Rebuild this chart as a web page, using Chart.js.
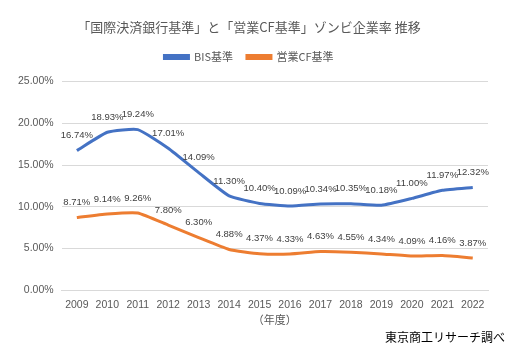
<!DOCTYPE html>
<html>
<head>
<meta charset="utf-8">
<script src="https://cdn.jsdelivr.net/npm/chart.js@4"></script>
<style>
  html, body { margin: 0; padding: 0; background: #fff; }
  #wrap { width: 517px; height: 358px; }
</style>
</head>
<body>
<div id="wrap"><canvas id="chart"></canvas></div>
<script>
// years (fiscal) and zombie-company ratios, in percent
const years = ["2009", "2010", "2011", "2012", "2013", "2014", "2015", "2016", "2017", "2018", "2019", "2020", "2021", "2022"];
const bisRatio = [16.74, 18.93, 19.24, 17.01, 14.09, 11.30, 10.40, 10.09, 10.34, 10.35, 10.18, 11.00, 11.97, 12.32];
const cfRatio = [8.71, 9.14, 9.26, 7.80, 6.30, 4.88, 4.37, 4.33, 4.63, 4.55, 4.34, 4.09, 4.16, 3.87];
const seriesNames = ["BIS基準", "営業CF基準"];

const blue = "#4472C4";
const orange = "#ED7D31";
const textColor = "#595959";
const fontFamily = "'Liberation Sans', 'Noto Sans CJK JP', sans-serif";

// extra room under the legend
const legendGap = {
    id: "legendGap",
    beforeInit(chart) {
        const fit = chart.legend.fit;
        chart.legend.fit = function() {
            fit.call(this);
            this.height += 9;
        };
    }
};

// draws the value above every point
const pointLabels = {
    id: "pointLabels",
    afterDatasetsDraw(chart) {
        const ctx = chart.ctx;
        ctx.save();
        ctx.font = "9.5px " + fontFamily;
        ctx.fillStyle = "#404040";
        ctx.textAlign = "center";
        ctx.textBaseline = "middle";
        chart.data.datasets.forEach((ds, i) => {
            chart.getDatasetMeta(i).data.forEach((pt, j) => {
                ctx.fillText(ds.data[j].toFixed(2) + "%", pt.x, pt.y - 15);
            });
        });
        ctx.restore();
    }
};

// source note in the bottom right corner
const sourceNote = {
    id: "sourceNote",
    afterDraw(chart) {
        const ctx = chart.ctx;
        ctx.save();
        ctx.font = "12px 'Noto Sans CJK JP', sans-serif";
        ctx.fillStyle = "#000";
        ctx.textAlign = "right";
        ctx.textBaseline = "middle";
        ctx.fillText("東京商工リサーチ調べ", 505, 337);
        ctx.restore();
    }
};

new Chart(document.getElementById("chart"), {
    type: "line",
    data: {
        labels: years,
        datasets: [
            {
                label: seriesNames[0],
                data: bisRatio,
                borderColor: blue,
                backgroundColor: blue,
                borderWidth: 3,
                pointRadius: 0,
                tension: 0.15,
                fill: false
            },
            {
                label: seriesNames[1],
                data: cfRatio,
                borderColor: orange,
                backgroundColor: orange,
                borderWidth: 3,
                pointRadius: 0,
                tension: 0.15,
                fill: false
            }
        ]
    },
    options: {
        responsive: true,
        maintainAspectRatio: false,
        animation: false,
        layout: { padding: { left: 10, right: 29, top: 17, bottom: 32 } },
        plugins: {
            title: {
                display: true,
                text: "「国際決済銀行基準」と「営業CF基準」ゾンビ企業率 推移",
                color: textColor,
                font: { family: "'Noto Sans CJK JP', sans-serif", size: 13, weight: "normal" },
                padding: { top: 2, bottom: 3 }
            },
            legend: {
                position: "top",
                labels: {
                    color: textColor,
                    font: { family: "'Noto Sans CJK JP', sans-serif", size: 11 },
                    boxWidth: 24,
                    boxHeight: 3,
                    padding: 14
                }
            },
            tooltip: { enabled: false }
        },
        scales: {
            x: {
                offset: true,
                grid: { display: false },
                border: { color: "#d9d9d9" },
                ticks: { color: textColor, font: { family: fontFamily, size: 10.5 }, maxRotation: 0, autoSkip: false, padding: 1 },
                title: {
                    display: true,
                    text: "（年度）",
                    color: textColor,
                    font: { family: "'Noto Sans CJK JP', sans-serif", size: 11 },
                    padding: { top: 0, bottom: 0 }
                }
            },
            y: {
                min: 0,
                max: 25,
                ticks: {
                    stepSize: 5,
                    color: textColor,
                    font: { family: fontFamily, size: 10.5 },
                    padding: 8,
                    callback: v => v.toFixed(2) + "%"
                },
                grid: { color: "#d9d9d9", drawTicks: false },
                border: { display: false }
            }
        }
    },
    plugins: [legendGap, pointLabels, sourceNote]
});
</script>
</body>
</html>
